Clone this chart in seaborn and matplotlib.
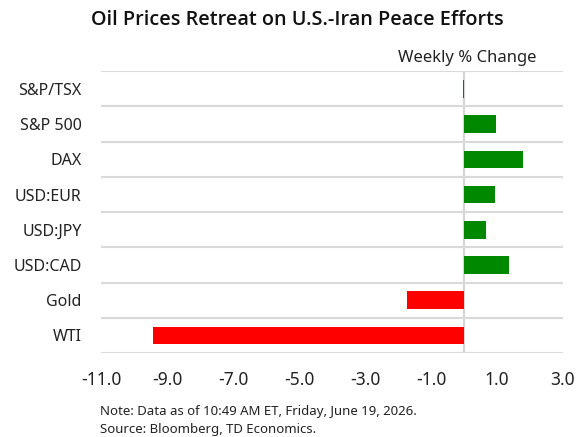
import numpy as np
import pandas as pd
import matplotlib
matplotlib.use("Agg")
import matplotlib.pyplot as plt
import seaborn as sns

# -------------------------------
# DATA (weekly % change)
# -------------------------------
labels = ["S&P/TSX", "S&P 500", "DAX", "USD:EUR", "USD:JPY", "USD:CAD", "Gold", "WTI"]
values = [-0.04, 0.96, 1.80, 0.93, 0.68, 1.35, -1.72, -9.42]
x_ticks = [-11.0, -9.0, -7.0, -5.0, -3.0, -1.0, 1.0, 3.0]

df = pd.DataFrame({"asset": labels, "change": values})
df["sign"] = np.where(df["change"] >= 0, "up", "down")

# -------------------------------
# STYLE
# -------------------------------
sns.set_style("white")
plt.rcParams["font.family"] = ["Noto Sans", "DejaVu Sans"]

fig = plt.figure(figsize=(5.78, 4.37), dpi=100)
ax = fig.add_axes([0.175, 0.192, 0.799, 0.645])

sns.barplot(
    data=df,
    x="change",
    y="asset",
    hue="sign",
    palette={"up": "#008800", "down": "#ff0000"},
    saturation=1,
    orient="h",
    width=0.5,
    linewidth=0,
    legend=False,
    ax=ax,
)

ax.set_xlim(-11, 3)
ax.set_xticks(x_ticks)
ax.set_xticklabels([f"{t:.1f}" for t in x_ticks], fontsize=12.5, color="#222222")
ax.set_ylim(len(labels) - 0.5, -0.5)

# category separators
ax.set_yticks(np.arange(-0.5, len(labels), 1), minor=True)
ax.grid(which="minor", axis="y", color="#d9d9d9", linewidth=1.5)
ax.axvline(0, color="#d4d4d4", linewidth=1.5, zorder=0)

ax.tick_params(axis="x", length=0, pad=13)
ax.tick_params(axis="y", which="both", length=0, pad=14)
ax.tick_params(axis="y", labelsize=11.5, labelcolor="#222222")
ax.set_xlabel("")
ax.set_ylabel("")
sns.despine(ax=ax, left=True, bottom=True)

# -------------------------------
# TEXT
# -------------------------------
fig.text(297 / 578, 1 - 20 / 437, "Oil Prices Retreat on U.S.-Iran Peace Efforts",
         ha="center", va="center", fontsize=14.3, fontweight="semibold",
         family=["Open Sans", "DejaVu Sans"], color="#111111")
fig.text(537 / 578, 1 - 58 / 437, "Weekly % Change",
         ha="right", va="center", fontsize=12, color="#222222")
fig.text(100 / 578, 1 - 412 / 437, "Note: Data as of 10:49 AM ET, Friday, June 19, 2026.",
         ha="left", va="center", fontsize=9.5, color="#222222")
fig.text(100 / 578, 1 - 430 / 437, "Source: Bloomberg, TD Economics.",
         ha="left", va="center", fontsize=9.5, color="#222222")

fig.savefig("out.png", dpi=100)
